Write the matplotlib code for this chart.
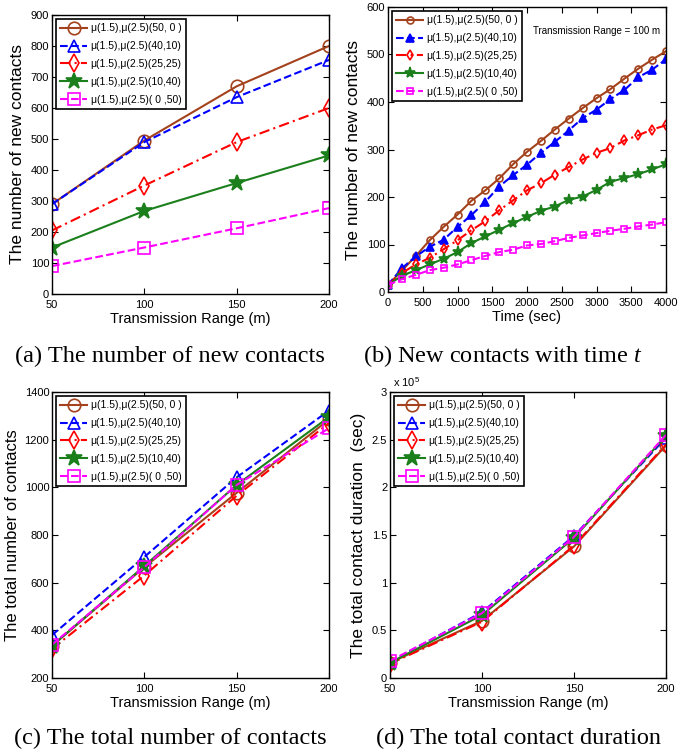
import matplotlib
matplotlib.use('Agg')
import matplotlib.pyplot as plt
from matplotlib.ticker import FuncFormatter
import numpy as np

# series labels and styles
labels = ['\u03bc(1.5),\u03bc(2.5)(50, 0 )', '\u03bc(1.5),\u03bc(2.5)(40,10)',
          '\u03bc(1.5),\u03bc(2.5)(25,25)', '\u03bc(1.5),\u03bc(2.5)(10,40)',
          '\u03bc(1.5),\u03bc(2.5)( 0 ,50)']

# (a) new contacts vs range
ranges = [50, 100, 150, 200]
new_50_0 = [290, 495, 670, 800]
new_40_10 = [290, 490, 635, 755]
new_25_25 = [205, 350, 490, 600]
new_10_40 = [150, 268, 358, 447]
new_0_50 = [90, 150, 212, 277]

# (b) new contacts vs time (range = 100 m)
times = [0, 200, 400, 600, 800, 1000, 1200, 1400, 1600, 1800, 2000,
         2200, 2400, 2600, 2800, 3000, 3200, 3400, 3600, 3800, 4000]
t_50_0 = [15, 45, 76, 109, 137, 163, 192, 214, 239, 269, 295,
          318, 342, 365, 387, 408, 427, 449, 470, 489, 507]
t_40_10 = [15, 50, 75, 95, 110, 137, 162, 190, 222, 246, 268,
           293, 316, 340, 366, 384, 406, 425, 452, 468, 490]
t_25_25 = [15, 40, 58, 72, 90, 109, 130, 149, 172, 193, 214,
           229, 247, 263, 279, 293, 303, 319, 330, 342, 351]
t_10_40 = [15, 34, 46, 58, 70, 84, 103, 117, 131, 145, 158,
           171, 180, 194, 201, 215, 232, 240, 248, 258, 269]
t_0_50 = [15, 27, 36, 46, 51, 58, 67, 76, 84, 89, 98,
          101, 107, 114, 119, 124, 129, 133, 138, 142, 147]

# (c) total contacts vs range
tot_50_0 = [335, 665, 977, 1285]
tot_40_10 = [380, 708, 1042, 1322]
tot_25_25 = [322, 630, 965, 1270]
tot_10_40 = [335, 670, 1010, 1295]
tot_0_50 = [340, 665, 1010, 1248]

# (d) total contact duration (sec) vs range
dur_50_0 = [0.16e5, 0.60e5, 1.38e5, 2.44e5]
dur_40_10 = [0.17e5, 0.69e5, 1.49e5, 2.52e5]
dur_25_25 = [0.15e5, 0.59e5, 1.39e5, 2.45e5]
dur_10_40 = [0.16e5, 0.66e5, 1.47e5, 2.54e5]
dur_0_50 = [0.18e5, 0.68e5, 1.48e5, 2.55e5]

colors = ['#A3421C', '#0000FF', '#FF0000', '#1B7F1B', '#FF00FF']
lstyles = ['-', '--', (0, (5, 2, 1, 2)), '-', '--']
markers = ['o', '^', 'd', '*', 's']

sans = ['Liberation Sans', 'DejaVu Sans']
serif = ['Liberation Serif', 'DejaVu Serif']
plt.rcParams['font.family'] = sans
plt.rcParams['mathtext.fontset'] = 'custom'
plt.rcParams['mathtext.it'] = 'Liberation Serif:italic'
plt.rcParams['mathtext.rm'] = 'Liberation Sans'

W, H = 697, 753
fig = plt.figure(figsize=(W / 100, H / 100), dpi=100)


def make_ax(l, r, t, b):
    ax = fig.add_axes([l / W, 1 - b / H, (r - l) / W, (b - t) / H])
    ax.tick_params(direction='in', top=True, right=True, labelsize=8,
                   length=4, width=0.8)
    ax.tick_params(axis='x', pad=4)
    ax.tick_params(axis='y', pad=2)
    for s in ax.spines.values():
        s.set_linewidth(1.0)
    return ax


def draw(ax, x, series, ms, small=False):
    for i, y in enumerate(series):
        mfc = 'none'
        m_s = ms
        if small:
            if markers[i] in ('^', '*'):
                mfc = colors[i]
            m_s = ms + 3 if markers[i] == '*' else (ms + 1 if markers[i] == '^' else ms)
        else:
            if markers[i] == '*':
                mfc = colors[i]
                m_s = ms + 3
        ax.plot(x, y, color=colors[i], linestyle=lstyles[i], marker=markers[i],
                markersize=m_s, mfc=mfc, mec=colors[i], lw=1.5, mew=1.2,
                label=labels[i])


def legend(ax):
    lg = ax.legend(loc='upper left', fontsize=7.5, frameon=True, fancybox=False,
                   framealpha=1, edgecolor='black', handlelength=2.6,
                   handletextpad=0.3, borderpad=0.4, labelspacing=0.75,
                   borderaxespad=0.4)
    lg.get_frame().set_linewidth(1.2)


# (a)
ax1 = make_ax(52, 329, 15, 294)
draw(ax1, ranges, [new_50_0, new_40_10, new_25_25, new_10_40, new_0_50], 9)
ax1.set_xlim(50, 200)
ax1.set_ylim(0, 900)
ax1.set_xticks(ranges)
ax1.set_yticks(np.arange(0, 901, 100))
ax1.set_xlabel('Transmission Range (m)', fontsize=10.5, labelpad=2)
ax1.set_ylabel('The number of new contacts', fontsize=12.5, labelpad=4)
legend(ax1)

# (b)
ax2 = make_ax(388, 666, 7, 292)
draw(ax2, times, [t_50_0, t_40_10, t_25_25, t_10_40, t_0_50], 5, small=True)
ax2.set_xlim(0, 4000)
ax2.set_ylim(0, 600)
ax2.set_xticks(np.arange(0, 4001, 500))
ax2.set_yticks(np.arange(0, 601, 100))
ax2.set_xlabel('Time (sec)', fontsize=10.5, labelpad=2)
ax2.set_ylabel('The number of new contacts', fontsize=12.5, labelpad=4)
legend(ax2)
ax2.text(660 / W, 1 - 31 / H, 'Transmission Range = 100 m',
         transform=fig.transFigure, ha='right', va='center', fontsize=7)

# (c)
ax3 = make_ax(52, 329, 392, 678)
draw(ax3, ranges, [tot_50_0, tot_40_10, tot_25_25, tot_10_40, tot_0_50], 9)
ax3.set_xlim(50, 200)
ax3.set_ylim(200, 1400)
ax3.set_xticks(ranges)
ax3.set_yticks(np.arange(200, 1401, 200))
ax3.set_xlabel('Transmission Range (m)', fontsize=10.5, labelpad=2)
ax3.set_ylabel('The total number of contacts', fontsize=12, labelpad=3)
legend(ax3)

# (d)
ax4 = make_ax(390, 666, 392, 678)
draw(ax4, ranges, [dur_50_0, dur_40_10, dur_25_25, dur_10_40, dur_0_50], 9)
ax4.set_xlim(50, 200)
ax4.set_ylim(0, 3e5)
ax4.set_xticks(ranges)
ax4.set_yticks(np.arange(0, 3.01e5, 0.5e5))
ax4.yaxis.set_major_formatter(FuncFormatter(lambda v, p: '%g' % (v / 1e5)))
ax4.set_xlabel('Transmission Range (m)', fontsize=10.5, labelpad=2)
ax4.set_ylabel('The total contact duration  (sec)', fontsize=12.5, labelpad=4)
ax4.text(0.01, 1.01, 'x 10$^5$', transform=ax4.transAxes, ha='left',
         va='bottom', fontsize=8)
legend(ax4)

# captions
cap = dict(family=serif, fontsize=17.5, ha='center', va='center')
fig.text(170 / W, 1 - 356 / H, '(a) The number of new contacts', **cap)
fig.text(503 / W, 1 - 356 / H, '(b) New contacts with time $t$', **cap)
fig.text(170 / W, 1 - 738 / H, '(c) The total number of contacts', **cap)
fig.text(519 / W, 1 - 738 / H, '(d) The total contact duration', **cap)

fig.savefig('out.png', dpi=100)
